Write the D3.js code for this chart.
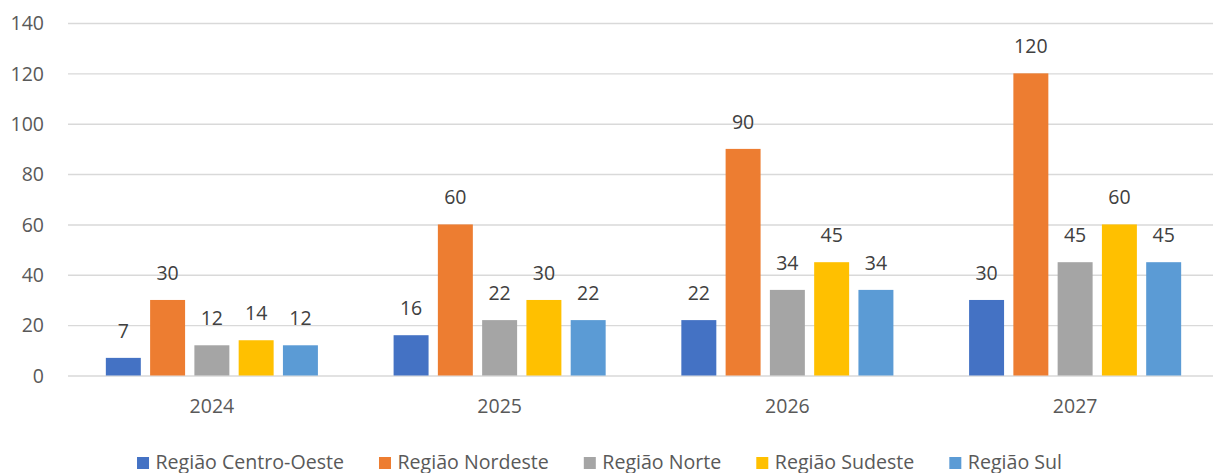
<!DOCTYPE html>
<html>
<head>
<meta charset="utf-8">
<script src="https://cdn.jsdelivr.net/npm/d3@7"></script>
<style>
  html, body { margin: 0; padding: 0; background: #fff; }
  svg { display: block; }
  text { font-family: "Open Sans", "Noto Sans", sans-serif; }
</style>
</head>
<body>
<svg id="chart" width="1213" height="473"></svg>
<script>
// Years on the x axis
const years = ["2024", "2025", "2026", "2027"];

// One entry per region
const regions = ["Região Centro-Oeste", "Região Nordeste", "Região Norte", "Região Sudeste", "Região Sul"];

// Values per region, aligned with years
const centroOeste = [7, 16, 22, 30];
const nordeste    = [30, 60, 90, 120];
const norte       = [12, 22, 34, 45];
const sudeste     = [14, 30, 45, 60];
const sul         = [12, 22, 34, 45];

const yTicks = [0, 20, 40, 60, 80, 100, 120, 140];

const colors = ["#4472C4", "#ED7D31", "#A5A5A5", "#FFC000", "#5B9BD5"];

const seriesValues = [centroOeste, nordeste, norte, sudeste, sul];

const svg = d3.select("#chart");
const W = 1213, H = 473;
const plotLeft = 68, plotRight = 1219, plotTop = 23, plotBottom = 375.5;

const y = d3.scaleLinear().domain([0, 140]).range([plotBottom, plotTop]);

const x0 = d3.scaleBand()
  .domain(years)
  .range([plotLeft, plotRight])
  .paddingInner(0.263)
  .paddingOuter(0.1315);

const x1 = d3.scaleBand()
  .domain(regions)
  .range([0, x0.bandwidth()])
  .paddingInner(0.21)
  .paddingOuter(0);

const color = d3.scaleOrdinal().domain(regions).range(colors);

// Horizontal gridlines and y tick labels
const yAxis = d3.axisLeft(y).tickValues(yTicks).tickSize(-(W - plotLeft)).tickFormat(d3.format("d"));
const gy = svg.append("g").attr("transform", `translate(${plotLeft},0)`).call(yAxis);
gy.select(".domain").remove();
gy.selectAll(".tick line").attr("stroke", "#d9d9d9").attr("stroke-width", 1.4);
gy.selectAll(".tick text")
  .attr("x", -24)
  .attr("dy", "0.35em")
  .attr("fill", "#595959")
  .style("font-size", "19.5px")
  .attr("text-anchor", "end");

// Category labels
const xAxis = d3.axisBottom(x0).tickSize(0);
const gx = svg.append("g").attr("transform", `translate(0,${plotBottom})`).call(xAxis);
gx.select(".domain").remove();
gx.selectAll(".tick text")
  .attr("y", 0)
  .attr("dy", 37.5)
  .attr("fill", "#595959")
  .style("font-size", "19.5px");

// Rows of (year, region, value)
const rows = [];
years.forEach((yr, i) => {
  regions.forEach((r, j) => rows.push({ year: yr, region: r, value: seriesValues[j][i] }));
});

const groups = svg.append("g");

groups.selectAll("rect")
  .data(rows)
  .join("rect")
  .attr("x", d => x0(d.year) + x1(d.region))
  .attr("y", d => y(d.value))
  .attr("width", x1.bandwidth())
  .attr("height", d => y(0) - y(d.value))
  .attr("fill", d => color(d.region));

// Value labels above bars
groups.selectAll("text.val")
  .data(rows)
  .join("text")
  .attr("class", "val")
  .attr("x", d => x0(d.year) + x1(d.region) + x1.bandwidth() / 2)
  .attr("y", d => y(d.value) - 20)
  .attr("text-anchor", "middle")
  .attr("fill", "#404040")
  .style("font-size", "19.5px")
  .text(d => d.value);

// Legend, centred below the plot
const legend = svg.append("g");
const items = legend.selectAll("g").data(regions).join("g");
items.append("rect")
  .attr("width", 12).attr("height", 12)
  .attr("y", 457)
  .attr("fill", d => color(d));
items.append("text")
  .attr("x", 18.5)
  .attr("y", 468.5)
  .attr("fill", "#595959")
  .style("font-size", "19.6px")
  .text(d => d);

const gap = 35;
const widths = [];
items.each(function () { widths.push(this.querySelector("text").getComputedTextLength() + 18.5); });
const total = d3.sum(widths) + gap * (widths.length - 1);
let cx = 599.5 - total / 2;
items.attr("transform", (d, i) => {
  const t = `translate(${cx},0)`;
  cx += widths[i] + gap;
  return t;
});
</script>
</body>
</html>
